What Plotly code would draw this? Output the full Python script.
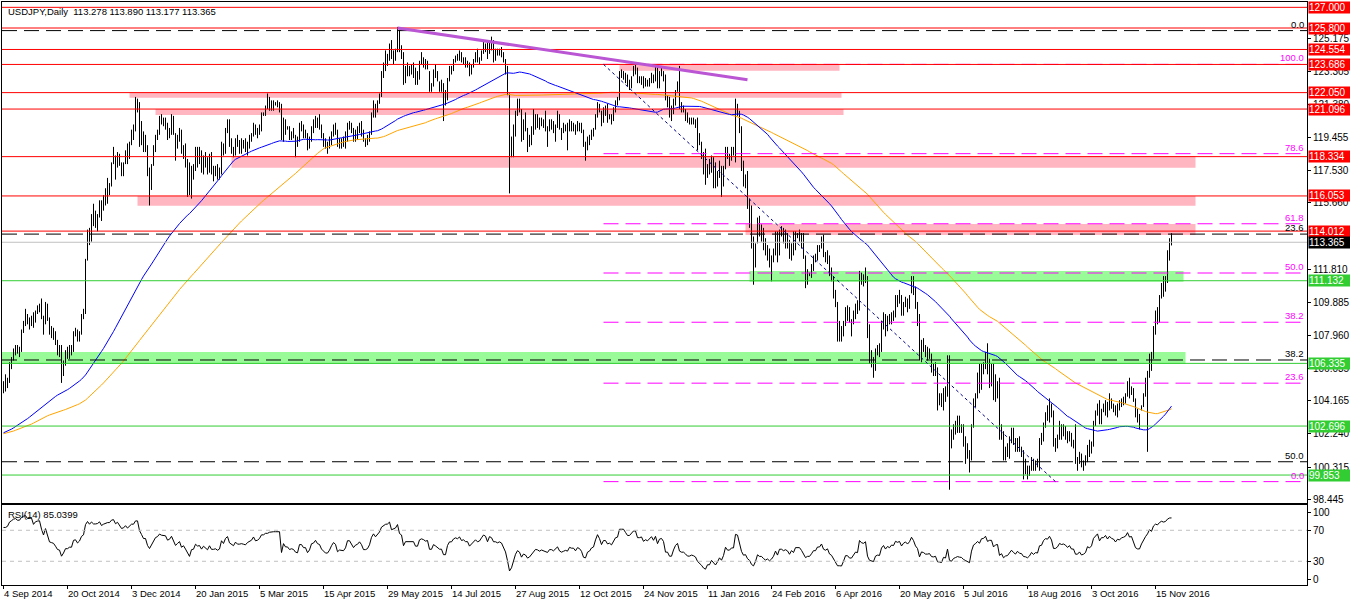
import numpy as np
import plotly.graph_objects as go

# ---------------- data ----------------
# closes before the first visible bar (used only to warm up the moving averages / RSI)
pre_close = [
    103.0, 102.6, 101.7, 101.3, 101.3, 101.5, 102.2, 102.4, 102.2, 102.3,
    102.4, 102.1, 102.3, 102.8, 103.1, 103.2, 103.8, 103.3, 103.0, 102.0,
    101.6,
    101.5, 101.6, 101.8, 102.0, 102.3, 102.4, 102.4, 102.6, 102.6, 102.3,
    102.2, 102.6, 102.4, 102.1,
    102.3, 102.2, 102.0, 101.6, 101.6, 101.9, 102.1, 102.2, 102.0, 101.5,
    101.6, 101.5, 101.2, 101.4, 101.2, 101.3, 101.7, 101.9, 101.8, 101.9,
    101.7, 101.8,
    102.2, 102.3, 102.7, 102.5, 102.4, 102.3, 102.1, 101.9, 101.9, 101.8,
    102.0, 102.2, 101.8, 101.9, 102.1, 101.9, 101.9, 101.8, 101.6, 101.4,
    101.3,
    101.5, 101.7, 102.1, 102.0, 101.9, 101.6, 101.4, 101.3, 101.3, 101.5,
    101.6, 101.6, 101.3, 101.3, 101.4, 101.5, 101.4, 101.9, 101.8, 101.9,
    102.1, 102.8, 102.8,
    102.6, 102.6, 102.5, 102.2, 102.0, 101.6, 101.8, 102.3, 102.4, 102.4,
    102.4, 102.6, 102.9, 103.3, 103.8, 103.9, 103.9, 104.0, 104.2, 103.7,
    104.1,
    104.3, 105.1, 104.8,
]

high = [
    # 4 Sep 2014
    105.3, 105.7, 105.5, 106.4, 106.7, 107.2, 107.4, 107.4, 107.3, 108.3,
    108.8, 109.5, 109.2, 109.0, 109.1, 109.3, 109.4, 109.7, 109.8, 110.1,
    109.1, 109.9, 109.8, 109.0, 108.5, 108.4, 108.2, 107.7, 107.4, 107.4,
    106.5, 107.1,
    # 20 Oct 2014
    107.3, 107.4, 107.4, 108.2, 108.4, 108.3, 108.2, 109.2, 109.5, 112.4,
    114.1, 114.2, 115.0, 115.6, 115.2, 115.0, 115.8, 115.8, 116.1, 116.5,
    117.1, 116.8, 118.0, 118.9, 118.4, 118.6, 118.5, 118.0, 118.0, 118.7,
    119.1, 119.2,
    # 3 Dec 2014
    119.9, 120.2, 121.8, 121.7, 121.5, 120.4, 119.8, 119.6, 119.0, 117.7,
    117.9, 119.0, 119.6, 119.9, 120.7, 120.8, 120.6, 120.6, 120.3, 120.0,
    120.8, 120.7, 119.7, 119.6, 120.0, 119.9, 119.0, 119.1, 118.2, 118.0,
    117.8, 117.9,
    # 20 Jan 2015
    118.9, 118.9, 118.9, 118.7, 118.4, 118.6, 118.3, 118.5, 118.6, 117.8,
    117.8, 117.9, 117.7, 119.2, 119.1, 120.0, 120.5, 120.5, 119.4, 118.9,
    119.4, 119.6, 119.3, 119.4, 119.3, 119.4, 119.2, 119.6, 119.7, 120.3,
    120.2, 120.0,
    # 5 Mar 2015
    120.2, 120.9, 120.9, 121.3, 122.0, 121.8, 121.6, 121.6, 121.5, 121.6,
    121.5, 121.4, 120.6, 120.5, 120.1, 120.1, 119.8, 120.0, 119.6, 119.5,
    120.3, 120.4, 120.2, 119.9, 119.7, 119.5, 120.1, 120.5, 120.7, 120.6,
    120.8, 120.2,
    # 15 Apr 2015
    119.7, 119.4, 119.2, 119.5, 119.8, 120.2, 120.3, 119.9, 119.4, 119.4,
    119.5, 119.8, 120.3, 120.4, 120.3, 120.0, 119.9, 120.1, 120.3, 120.4,
    119.9, 119.4, 119.6, 119.8, 120.9, 121.6, 121.4, 121.6, 122.0, 123.3,
    123.8, 124.5,
    # 29 May 2015
    124.3, 124.9, 125.1, 124.5, 124.6, 125.86, 125.7, 124.8, 124.4, 123.6,
    123.8, 123.6, 123.7, 123.8, 123.5, 123.3, 123.9, 124.4, 124.1, 124.0,
    123.9, 123.3, 122.6, 123.4, 123.7, 123.3, 122.7, 122.8, 122.6, 122.2,
    122.9, 123.6,
    # 14 Jul 2015
    123.6, 124.0, 124.2, 124.3, 124.5, 124.4, 124.1, 124.1, 123.9, 123.8,
    123.7, 124.0, 124.4, 124.6, 124.1, 124.5, 125.1, 124.9, 125.1, 125.0,
    125.3, 125.1, 124.6, 124.6, 124.6, 124.7, 124.4, 124.0, 123.6, 122.0,
    119.5, 120.2,
    # 27 Aug 2015
    121.0, 121.7, 121.7, 121.1, 120.5, 120.9, 120.0, 119.6, 120.1, 121.1,
    120.8, 120.8, 120.6, 120.6, 120.5, 121.0, 120.1, 120.5, 120.5, 120.4,
    120.2, 121.0, 120.8, 120.0, 120.3, 120.2, 120.3, 120.5, 120.4, 120.3,
    120.2, 120.4,
    # 12 Oct 2015
    120.3, 120.3, 119.9, 119.2, 119.5, 119.6, 119.9, 120.0, 120.8, 121.5,
    121.4, 121.0, 121.2, 121.3, 121.4, 120.8, 120.8, 121.2, 121.6, 121.8,
    123.3, 123.4, 123.3, 123.2, 123.1, 122.8, 123.0, 123.6, 123.8, 123.5,
    123.0, 123.0,
    # 24 Nov 2015
    123.0, 122.9, 122.8, 122.9, 123.2, 123.1, 123.7, 123.7, 123.3, 123.5,
    123.3, 123.1, 121.9, 121.8, 121.3, 121.7, 122.2, 122.7, 123.6, 121.5,
    121.3, 121.1, 120.9, 120.6, 120.6, 120.6, 120.5, 120.6, 119.7, 119.2,
    118.6, 118.8,
    # 11 Jan 2016
    117.9, 118.2, 118.4, 118.3, 118.0, 117.5, 118.1, 117.8, 117.8, 118.9,
    118.9, 118.5, 118.9, 118.9, 121.7, 121.4, 121.0, 120.1, 118.1, 117.3,
    117.5, 115.9, 115.5, 113.7, 113.3, 114.8, 114.9, 114.4, 114.2, 113.6,
    113.2, 113.0,
    # 24 Feb 2016
    112.6, 113.0, 114.0, 114.0, 114.1, 114.3, 114.2, 114.1, 113.9, 113.5,
    113.3, 114.0, 114.0, 113.9, 114.1, 113.9, 113.9, 112.6, 111.8, 111.6,
    112.1, 112.6, 112.7, 113.2, 113.2, 113.7, 113.8, 112.8, 112.9, 112.6,
    111.9, 111.4,
    # 6 Apr 2016
    110.6, 109.9, 108.8, 108.5, 108.8, 109.6, 109.7, 109.6, 108.9, 109.4,
    109.8, 110.0, 111.7, 111.6, 111.5, 111.9, 111.4, 108.6, 107.1, 106.7,
    107.2, 107.4, 107.5, 108.8, 109.3, 109.2, 109.1, 109.2, 109.3, 109.4,
    110.3, 110.3,
    # 20 May 2016
    110.6, 110.3, 109.9, 110.2, 110.1, 110.3, 111.4, 111.4, 110.8, 109.9,
    109.2, 107.7, 107.8, 107.4, 107.3, 107.2, 106.9, 106.3, 106.4, 106.1,
    104.6, 104.6, 104.9, 105.0, 106.8, 106.8, 102.5, 102.8, 103.0, 103.3,
    103.3, 102.8,
    # 5 Jul 2016
    102.8, 102.1, 101.7, 101.3, 102.8, 104.3, 104.6, 105.8, 106.3, 106.3,
    106.4, 107.0, 107.5, 106.6, 106.3, 106.3, 105.7, 105.3, 105.5, 102.8,
    102.4, 101.5, 101.7, 102.1, 102.6, 102.6, 102.0, 102.0, 102.1, 101.5,
    101.3, 100.8,
    # 18 Aug 2016
    100.4, 100.4, 100.9, 100.8, 100.7, 100.8, 102.0, 102.3, 102.9, 103.5,
    103.9, 104.3, 104.0, 103.6, 102.0, 102.2, 103.0, 102.8, 102.8, 102.7,
    102.4, 102.4, 102.3, 101.9, 102.8, 100.9, 101.2, 101.1, 100.7, 101.0,
    101.6, 101.9,
    # 3 Oct 2016
    101.8, 103.0, 103.6, 104.0, 104.2, 103.7, 104.0, 104.2, 104.1, 104.6,
    104.3, 104.0, 103.9, 104.0, 104.2, 104.3, 104.4, 104.6, 105.3, 105.5,
    105.0, 104.9, 104.3, 103.7, 103.4, 103.9, 104.6, 105.5, 105.9, 106.9,
    107.0, 108.5,
    # 15 Nov 2016
    109.4, 109.6, 110.3, 111.0, 111.4, 111.4, 112.9, 113.6, 113.89,
]

low = [
    104.6, 104.7, 104.9, 105.2, 106.0, 106.5, 106.8, 106.9, 106.7, 107.0,
    108.1, 108.5, 108.6, 108.3, 108.5, 108.4, 108.7, 109.2, 109.3, 108.9,
    108.0, 108.6, 108.8, 108.0, 107.8, 107.7, 107.4, 106.8, 106.7, 105.2,
    105.6, 106.2,
    106.6, 106.6, 106.8, 107.0, 107.9, 107.6, 107.6, 108.0, 108.9, 109.2,
    112.3, 113.2, 113.4, 114.3, 114.2, 114.0, 114.8, 114.6, 115.2, 115.5,
    115.6, 116.1, 116.6, 117.9, 117.0, 117.7, 117.8, 117.2, 117.2, 117.9,
    117.9, 118.2,
    119.0, 119.3, 119.8, 120.9, 118.9, 119.0, 118.6, 118.6, 117.2, 115.5,
    116.4, 117.8, 118.6, 119.3, 119.6, 120.2, 120.1, 119.9, 119.3, 119.4,
    119.6, 119.6, 118.1, 118.8, 119.2, 118.5, 118.2, 117.7, 116.0, 116.1,
    115.9, 117.0,
    117.5, 117.7, 117.9, 117.4, 117.3, 117.7, 117.3, 117.4, 117.3, 116.9,
    117.2, 117.0, 117.0, 117.3, 118.4, 118.5, 119.7, 118.9, 118.5, 118.3,
    118.4, 118.9, 118.5, 118.5, 118.8, 118.6, 118.4, 118.8, 119.2, 119.5,
    119.6, 119.4,
    119.6, 119.8, 120.7, 120.7, 121.1, 121.0, 121.0, 121.0, 121.3, 121.2,
    120.9, 119.3, 119.2, 119.6, 119.9, 119.3, 119.3, 119.4, 118.3, 118.9,
    119.2, 119.8, 119.4, 119.4, 118.7, 118.8, 119.2, 119.7, 120.0, 120.0,
    119.9, 119.4,
    118.9, 118.8, 118.5, 118.8, 119.0, 119.5, 119.6, 118.9, 118.8, 118.8,
    118.9, 118.8, 119.2, 119.9, 119.7, 119.2, 119.2, 119.3, 119.7, 119.5,
    119.2, 118.9, 119.0, 119.2, 119.6, 120.6, 120.6, 120.9, 121.4, 121.8,
    122.9, 123.3,
    123.6, 123.9, 124.0, 123.7, 123.9, 124.4, 124.4, 124.0, 122.5, 122.6,
    123.0, 123.0, 123.1, 122.9, 122.5, 122.5, 122.8, 123.7, 123.5, 123.4,
    123.4, 122.1, 122.1, 122.4, 122.9, 122.7, 122.1, 122.1, 120.4, 121.3,
    121.6, 122.7,
    123.1, 123.3, 123.8, 123.9, 123.9, 123.8, 123.7, 123.5, 123.5, 123.0,
    123.1, 123.5, 123.8, 123.8, 123.7, 123.9, 124.3, 124.4, 124.0, 124.3,
    124.5, 123.8, 123.9, 124.2, 124.2, 124.1, 123.8, 123.1, 121.9, 116.2,
    118.3, 118.3,
    119.5, 120.7, 120.9, 119.2, 119.3, 119.8, 118.6, 118.9, 119.0, 119.6,
    119.9, 120.0, 119.9, 120.1, 120.0, 119.8, 118.9, 119.8, 119.9, 119.7,
    119.2, 120.0, 119.9, 119.3, 119.7, 119.8, 118.7, 119.8, 119.8, 119.8,
    119.6, 119.8,
    119.8, 119.7, 118.9, 118.1, 118.7, 119.0, 119.3, 119.5, 119.9, 120.6,
    120.9, 120.1, 120.3, 120.7, 120.3, 120.5, 120.2, 120.4, 120.9, 121.3,
    121.6, 122.9, 122.8, 122.6, 122.4, 122.2, 122.3, 123.0, 123.1, 122.6,
    122.6, 122.5,
    122.3, 122.4, 122.4, 122.4, 122.6, 122.6, 122.7, 122.3, 122.3, 123.0,
    122.7, 121.6, 121.2, 120.6, 120.4, 120.8, 121.3, 122.1, 121.1, 120.9,
    120.9, 120.4, 120.3, 120.2, 120.2, 120.2, 120.0, 118.7, 119.0, 118.2,
    117.3, 116.7,
    117.1, 117.3, 117.4, 116.5, 116.5, 116.6, 117.1, 116.0, 116.6, 117.6,
    118.2, 117.8, 118.1, 118.4, 118.0, 120.7, 119.7, 117.5, 116.6, 116.5,
    115.3, 114.2, 113.0, 110.9, 111.9, 113.3, 113.7, 113.4, 112.9, 112.6,
    112.3, 111.9,
    111.1, 112.2, 112.6, 112.2, 112.6, 113.7, 113.3, 113.0, 113.0, 112.4,
    112.3, 112.6, 112.9, 113.6, 113.4, 113.0, 112.4, 110.7, 110.9, 111.4,
    111.3, 111.7, 112.2, 112.3, 112.8, 113.0, 112.5, 112.2, 112.1, 111.4,
    111.1, 110.1,
    109.6, 107.6, 107.6, 107.6, 107.9, 108.5, 108.8, 108.7, 107.9, 108.6,
    108.9, 109.2, 109.4, 110.9, 110.8, 111.0, 107.8, 106.3, 106.1, 105.5,
    105.9, 106.8, 106.7, 107.0, 108.3, 107.9, 108.2, 108.6, 108.6, 108.8,
    109.0, 109.6,
    109.8, 109.1, 109.1, 109.6, 109.3, 109.5, 110.4, 110.3, 109.5, 108.5,
    106.5, 106.4, 107.0, 106.7, 106.5, 106.6, 105.8, 105.6, 105.6, 103.6,
    103.9, 103.8, 103.6, 104.1, 104.4, 99.0, 101.4, 101.9, 102.2, 102.3,
    102.3, 102.3,
    101.5, 100.5, 100.8, 100.0, 100.7, 102.6, 103.8, 104.3, 104.6, 104.8,
    105.7, 106.0, 105.7, 104.9, 105.0, 104.2, 104.1, 104.3, 101.9, 101.9,
    100.7, 100.7, 100.9, 100.8, 101.7, 101.6, 101.2, 101.2, 101.2, 100.9,
    99.6, 99.9,
    99.6, 99.8, 100.1, 100.1, 100.1, 100.3, 100.1, 101.6, 101.8, 102.6,
    103.0, 102.9, 103.2, 101.5, 101.2, 101.4, 101.9, 101.9, 102.1, 101.9,
    101.7, 101.8, 101.5, 101.4, 100.5, 100.1, 100.5, 100.3, 100.1, 100.4,
    100.6, 100.9,
    101.1, 101.5, 102.7, 103.3, 102.8, 102.8, 103.5, 103.3, 103.2, 103.6,
    103.7, 103.5, 103.3, 103.2, 103.6, 103.8, 103.9, 104.0, 104.4, 104.3,
    104.5, 104.1, 103.2, 102.9, 102.5, 103.6, 103.8, 104.4, 101.2, 105.5,
    105.9, 106.6,
    108.0, 108.6, 108.7, 110.1, 110.2, 110.5, 111.0, 112.3, 113.18,
]

close = [
    105.1, 105.1, 105.3, 106.2, 106.6, 107.1, 107.3, 107.2, 107.2, 108.2,
    108.7, 109.0, 108.8, 108.8, 109.0, 108.6, 109.3, 109.5, 109.6, 109.0,
    108.5, 109.8, 108.9, 108.2, 108.1, 108.0, 107.6, 107.1, 107.0, 105.9,
    106.3, 106.9,
    106.9, 107.1, 107.1, 108.1, 108.2, 107.8, 108.1, 108.9, 109.2, 112.3,
    114.0, 113.6, 114.9, 114.6, 114.6, 114.8, 115.7, 115.2, 115.8, 116.3,
    116.6, 116.6, 117.9, 118.2, 117.7, 118.4, 117.9, 117.6, 117.8, 118.6,
    118.3, 119.2,
    119.8, 119.8, 121.4, 121.4, 120.1, 119.5, 118.8, 118.8, 117.5, 116.8,
    117.6, 118.7, 119.5, 119.8, 120.6, 120.4, 120.3, 120.3, 119.6, 119.8,
    120.5, 119.6, 118.9, 119.3, 119.7, 118.6, 118.9, 118.2, 117.2, 116.3,
    117.6, 117.7,
    118.8, 118.4, 118.5, 117.7, 118.3, 117.9, 117.5, 118.3, 117.5, 117.5,
    117.6, 117.3, 117.5, 119.1, 118.6, 119.8, 120.3, 119.1, 118.7, 118.5,
    119.3, 118.9, 118.9, 119.0, 118.9, 118.8, 119.2, 119.4, 119.6, 120.2,
    119.7, 119.8,
    120.1, 120.8, 120.8, 121.1, 121.1, 121.3, 121.4, 121.4, 121.4, 121.4,
    121.4, 119.3, 120.5, 120.0, 120.0, 119.6, 119.7, 119.6, 119.2, 119.1,
    120.1, 120.1, 119.7, 119.7, 119.0, 119.3, 120.1, 120.2, 120.6, 120.2,
    120.1, 119.5,
    119.2, 118.9, 118.9, 119.2, 119.7, 120.1, 119.9, 118.9, 119.1, 119.0,
    119.0, 119.3, 120.2, 120.2, 119.8, 119.4, 119.7, 119.8, 120.1, 119.8,
    119.2, 119.2, 119.3, 119.7, 120.7, 121.3, 121.0, 121.5, 121.9, 123.1,
    123.6, 124.0,
    124.1, 124.8, 124.0, 124.3, 124.5, 125.6, 124.5, 124.3, 122.5, 123.4,
    123.4, 123.4, 123.4, 123.4, 122.7, 122.7, 123.8, 124.0, 123.9, 123.7,
    123.8, 122.5, 122.5, 123.2, 123.0, 122.8, 122.5, 122.5, 121.6, 121.6,
    122.8, 123.4,
    123.4, 123.9, 124.1, 124.0, 124.3, 123.9, 124.0, 123.8, 123.8, 123.3,
    123.6, 123.9, 124.1, 123.9, 124.0, 124.4, 124.8, 124.7, 124.2, 124.9,
    124.8, 124.4, 124.4, 124.3, 124.4, 124.3, 123.9, 123.4, 122.0, 118.4,
    118.8, 119.8,
    120.9, 121.6, 121.2, 119.7, 120.3, 120.0, 119.0, 119.2, 119.6, 120.2,
    120.6, 120.5, 120.2, 120.4, 120.2, 120.0, 119.9, 120.3, 120.3, 120.1,
    120.3, 120.6, 120.0, 119.8, 119.9, 120.0, 119.9, 120.3, 120.2, 120.2,
    119.9, 120.2,
    120.1, 119.8, 119.0, 118.9, 119.4, 119.5, 119.8, 119.9, 120.7, 121.5,
    121.1, 120.4, 121.0, 121.0, 120.6, 120.7, 120.5, 121.0, 121.5, 121.6,
    123.2, 123.2, 123.2, 122.9, 122.6, 122.6, 123.0, 123.4, 123.4, 122.8,
    122.8, 122.9,
    122.5, 122.7, 122.6, 122.8, 123.1, 122.8, 123.3, 122.6, 123.2, 123.3,
    123.0, 121.6, 121.6, 120.9, 120.9, 121.6, 122.2, 122.5, 121.3, 121.1,
    121.1, 120.8, 120.4, 120.4, 120.5, 120.4, 120.2, 119.4, 119.0, 118.5,
    117.7, 117.3,
    117.7, 117.7, 118.1, 117.7, 117.0, 117.3, 117.7, 117.2, 117.7, 118.8,
    118.3, 118.3, 118.6, 118.6, 121.1, 121.0, 119.9, 117.9, 116.8, 116.9,
    115.6, 115.0, 113.2, 112.4, 113.2, 114.6, 114.0, 114.0, 113.2, 112.6,
    112.8, 112.1,
    112.4, 112.9, 113.9, 112.7, 114.0, 114.0, 113.6, 113.8, 113.5, 112.6,
    113.3, 112.8, 113.8, 113.8, 113.8, 113.2, 112.5, 111.3, 111.5, 111.5,
    111.9, 112.4, 112.4, 113.0, 113.0, 113.5, 112.6, 112.4, 112.6, 111.6,
    111.3, 110.4,
    109.8, 108.1, 108.1, 108.0, 108.6, 109.4, 109.4, 108.8, 108.8, 109.2,
    109.6, 109.5, 111.6, 111.2, 111.1, 111.4, 108.1, 106.5, 106.4, 106.0,
    107.0, 107.2, 107.1, 108.6, 109.2, 108.3, 108.9, 108.6, 109.2, 109.1,
    110.1, 109.9,
    110.1, 109.2, 109.8, 110.1, 109.7, 110.2, 111.3, 110.7, 109.6, 109.0,
    106.5, 107.6, 107.4, 106.9, 106.9, 107.0, 106.1, 106.0, 106.1, 104.3,
    104.2, 104.0, 104.8, 104.6, 106.2, 102.2, 101.8, 102.4, 102.6, 102.8,
    102.6, 102.5,
    101.8, 101.4, 100.9, 100.6, 102.7, 104.2, 104.6, 105.2, 104.8, 106.1,
    106.2, 106.9, 105.8, 106.1, 106.1, 104.6, 105.1, 105.2, 102.0, 102.4,
    100.8, 101.2, 101.3, 101.8, 102.5, 101.8, 101.3, 101.9, 101.3, 101.2,
    100.3, 100.2,
    99.9, 100.2, 100.8, 100.3, 100.6, 100.5, 101.8, 101.9, 102.9, 103.4,
    103.3, 104.0, 103.4, 101.7, 101.7, 102.0, 102.7, 102.5, 102.6, 102.4,
    102.0, 102.3, 101.7, 101.7, 100.7, 100.7, 101.0, 100.4, 100.5, 100.7,
    101.5, 101.3,
    101.6, 102.9, 103.5, 103.9, 102.9, 103.6, 103.6, 104.1, 103.6, 104.2,
    103.9, 103.8, 103.4, 103.9, 103.8, 104.2, 104.3, 104.5, 105.2, 104.7,
    104.8, 104.2, 103.3, 103.1, 103.1, 103.8, 104.5, 105.1, 105.7, 106.8,
    106.6, 108.4,
    109.2, 109.1, 110.2, 110.9, 110.8, 111.1, 112.5, 113.3, 113.365,
]

last_ohlc = [113.278, 113.890, 113.177, 113.365]
rsi_last_shown = 85.0399

ma_fast_period = 75    # blue
ma_slow_period = 120   # orange
rsi_period = 14

date_labels = ["4 Sep 2014", "20 Oct 2014", "3 Dec 2014", "20 Jan 2015", "5 Mar 2015",
               "15 Apr 2015", "29 May 2015", "14 Jul 2015", "27 Aug 2015", "12 Oct 2015",
               "24 Nov 2015", "11 Jan 2016", "24 Feb 2016", "6 Apr 2016", "20 May 2016",
               "5 Jul 2016", "18 Aug 2016", "3 Oct 2016", "15 Nov 2016"]
date_label_bars = [0, 32, 64, 96, 128, 160, 192, 224, 256, 288, 320, 352, 384, 416,
                   448, 480, 512, 544, 576]

price_ticks = [125.175, 123.305, 121.380, 119.455, 117.530, 115.660, 111.810,
               109.885, 107.960, 106.035, 104.165, 102.240, 100.315, 98.445]

red_levels = [127.000, 125.800, 124.554, 123.686, 122.050, 121.096, 118.334, 116.053, 114.012]
green_levels = [111.132, 106.335, 102.696, 99.853]

# zones: (bar_from, bar_to, price_low, price_high)
pink_zones = [(308, 418, 123.32, 123.65), (63, 419, 121.75, 122.07), (76, 420, 120.75, 121.10),
              (114, 596, 117.69, 118.37), (67, 596, 115.49, 116.05), (371, 596, 113.78, 114.42)]
green_zones = [(373, 590, 111.07, 111.70), (-1, 591, 106.30, 107.00)]

# long-term fibonacci (black, from 75.6 low to 125.65 high)
fib1_high, fib1_low = 125.65, 75.6
fib1_ratios = [0.0, 23.6, 38.2, 50.0]
# short fibonacci (magenta), from bar 300 @123.69 to bar 526 @99.47
fib2_bar0, fib2_p0, fib2_bar1, fib2_p1 = 300, 123.69, 526, 99.47
fib2_ratios = [0.0, 23.6, 38.2, 50.0, 61.8, 78.6, 100.0]

trend_bar0, trend_p0, trend_bar1, trend_p1 = 197, 125.80, 372, 122.80

# ---------------- computations ----------------
n = min(len(high), len(low), len(close))
high, low, close = high[:n], low[:n], close[:n]
idx = np.arange(n)

allc = np.array(pre_close + close, dtype=float)
npre = len(pre_close)


def sma(a, p):
    out = np.full(len(a), np.nan)
    cs = np.cumsum(np.insert(a, 0, 0.0))
    out[p - 1:] = (cs[p:] - cs[:-p]) / p
    return out


ma_fast = sma(allc, ma_fast_period)[npre:]
ma_slow = sma(allc, ma_slow_period)[npre:]


def rsi(a, p=14):
    d = np.diff(a)
    g = np.where(d > 0, d, 0.0)
    l_ = np.where(d < 0, -d, 0.0)
    out = np.full(len(a), np.nan)
    ag = g[:p].mean()
    al = l_[:p].mean()
    out[p] = 100 - 100 / (1 + ag / al) if al > 0 else 100
    for k in range(p, len(d)):
        ag = (ag * (p - 1) + g[k]) / p
        al = (al * (p - 1) + l_[k]) / p
        out[k + 1] = 100 - 100 / (1 + ag / al) if al > 0 else 100
    return out


rsi_v = rsi(allc, rsi_period)[npre:]

# ---------------- figure geometry ----------------
W, H = 1350, 606
ML, MR, MT, MB = 2, 43, 2, 21
XMIN = -0.75
XMAX = XMIN + (W - ML - MR) / 2.0
plot_h = H - MT - MB
main_dom = [(585 - 503) / plot_h, 1.0]
rsi_dom = [0.0, (585 - 505) / plot_h]
YMIN, YMAX = 98.23, 127.31

FONT = "Liberation Sans, Arial, sans-serif"

fig = go.Figure()

# bars (high-low vertical lines)
bx, by = [], []
for i in range(n):
    bx += [i, i, None]
    by += [low[i], high[i], None]
fig.add_trace(go.Scatter(x=bx, y=by, mode="lines", line=dict(color="black", width=1),
                         hoverinfo="skip", showlegend=False, xaxis="x", yaxis="y"))
fig.add_trace(go.Scatter(x=idx, y=ma_slow, mode="lines", line=dict(color="#ffa500", width=1),
                         hoverinfo="skip", showlegend=False, xaxis="x", yaxis="y"))
fig.add_trace(go.Scatter(x=idx, y=ma_fast, mode="lines", line=dict(color="#0000ff", width=1),
                         hoverinfo="skip", showlegend=False, xaxis="x", yaxis="y"))
fig.add_trace(go.Scatter(x=idx, y=rsi_v, mode="lines", line=dict(color="black", width=1),
                         hoverinfo="skip", showlegend=False, xaxis="x2", yaxis="y2"))

shapes = []
for (b0, b1, p0, p1) in pink_zones:
    shapes.append(dict(type="rect", xref="x", yref="y", x0=b0, x1=b1, y0=p0, y1=p1,
                       fillcolor="#ffb6c1", line=dict(width=0), layer="below"))
for (b0, b1, p0, p1) in green_zones:
    shapes.append(dict(type="rect", xref="x", yref="y", x0=max(b0, XMIN), x1=b1, y0=p0, y1=p1,
                       fillcolor="#98fb98", line=dict(width=0), layer="below"))


def hline(p, color, dash="solid", x0=XMIN, width=1):
    shapes.append(dict(type="line", xref="x", yref="y", x0=x0, x1=XMAX, y0=p, y1=p,
                       line=dict(color=color, width=width, dash=dash)))


DASH = "15px,7px"
fib1_levels = [fib1_high - r / 100.0 * (fib1_high - fib1_low) for r in fib1_ratios]
fib2_levels = [fib2_p1 + r / 100.0 * (fib2_p0 - fib2_p1) for r in fib2_ratios]

hline(last_ohlc[3], "#c0c0c0")
for p in fib1_levels:
    hline(p, "black", DASH)
for p in fib2_levels:
    hline(p, "#ff00ff", DASH, x0=fib2_bar0)
for p in red_levels:
    hline(p, "#ff0000")
for p in green_levels:
    hline(p, "#32cd32")

# fib baseline (dotted) and trend line
shapes.append(dict(type="line", xref="x", yref="y", x0=fib2_bar0, y0=fib2_p0, x1=fib2_bar1, y1=fib2_p1,
                   line=dict(color="#00008b", width=1, dash="dot")))
shapes.append(dict(type="line", xref="x", yref="y", x0=trend_bar0, y0=trend_p0, x1=trend_bar1, y1=trend_p1,
                   line=dict(color="#ba55d3", width=3)))

# RSI levels
for lv in (30, 70):
    shapes.append(dict(type="line", xref="x2", yref="y2", x0=XMIN, x1=XMAX, y0=lv, y1=lv,
                       line=dict(color="#c0c0c0", width=1, dash="4px,4px")))

boxes = []
for p in red_levels:
    boxes.append((p, "#ff0000"))
boxes.append((last_ohlc[3], "black"))
for p in green_levels:
    boxes.append((p, "#32cd32"))
ann = []
for p, col in boxes:
    ann.append(dict(xref="paper", x=1, xshift=1, xanchor="left", yref="y", y=p, yanchor="middle",
                    text=f"{p:.3f}", showarrow=False, bgcolor=col, width=42, height=11,
                    align="left", borderpad=0, font=dict(family=FONT, size=10, color="white")))

# fib labels
for r, p in zip(fib1_ratios, fib1_levels):
    ann.append(dict(xref="paper", x=1, xshift=-2, xanchor="right", yref="y", y=p, yanchor="bottom",
                    text=f"{r:.1f}", showarrow=False, borderpad=0,
                    font=dict(family=FONT, size=9.5, color="black")))
for r, p in zip(fib2_ratios, fib2_levels):
    ann.append(dict(xref="paper", x=1, xshift=-2, xanchor="right", yref="y", y=p, yanchor="bottom",
                    text=f"{r:.1f}", showarrow=False, borderpad=0,
                    font=dict(family=FONT, size=9.5, color="#ff00ff")))

# title & RSI label
ann.append(dict(xref="paper", x=0, xshift=5, xanchor="left", yref="paper", y=1, yshift=-3,
                yanchor="top", showarrow=False, borderpad=0,
                text="USDJPY,Daily  " + " ".join(f"{v:.3f}" for v in last_ohlc),
                font=dict(family=FONT, size=9.5, color="black")))
ann.append(dict(xref="paper", x=0, xshift=5, xanchor="left", yref="y2 domain", y=1, yshift=-3,
                yanchor="top", showarrow=False, borderpad=0,
                text=f"RSI({rsi_period}) {rsi_last_shown:.4f}",
                font=dict(family=FONT, size=9.5, color="black")))

# date labels
for b, t in zip(date_label_bars, date_labels):
    ann.append(dict(xref="x2", x=b - 0.25, xanchor="left", yref="paper", y=0, yshift=-2,
                    yanchor="top", showarrow=False, borderpad=0, text=t,
                    font=dict(family=FONT, size=9.5, color="black")))

axis_common = dict(showgrid=False, zeroline=False, showline=True, mirror=True,
                   linecolor="black", linewidth=1)

fig.update_layout(
    width=W, height=H, margin=dict(l=ML, r=MR, t=MT, b=MB, pad=0, autoexpand=False),
    paper_bgcolor="white", plot_bgcolor="white", showlegend=False,
    shapes=shapes, annotations=ann,
    xaxis=dict(range=[XMIN, XMAX], anchor="y", showticklabels=False, ticks="", **axis_common),
    xaxis2=dict(range=[XMIN, XMAX], anchor="y2", matches="x", showticklabels=False,
                ticks="outside", ticklen=3, tickcolor="black", tickvals=[b - 0.25 for b in date_label_bars],
                **axis_common),
    yaxis=dict(domain=main_dom, range=[YMIN, YMAX], side="right", anchor="x",
               tickvals=price_ticks, ticktext=[f"{v:.3f}" for v in price_ticks],
               ticks="outside", ticklen=3, tickcolor="black", automargin=False,
               tickfont=dict(family=FONT, size=10, color="black"), **axis_common),
    yaxis2=dict(domain=rsi_dom, range=[-0.6, 102.6], side="right", anchor="x2",
                tickvals=[7, 30, 70, 93], ticktext=["0", "30", "70", "100"],
                ticks="outside", ticklen=3, tickcolor="black", automargin=False,
                tickfont=dict(family=FONT, size=10, color="black"), **axis_common),
)

fig.write_html("out.html", config={"displayModeBar": False},
               post_script="document.body.style.margin='0px';document.body.style.overflow='hidden';")
